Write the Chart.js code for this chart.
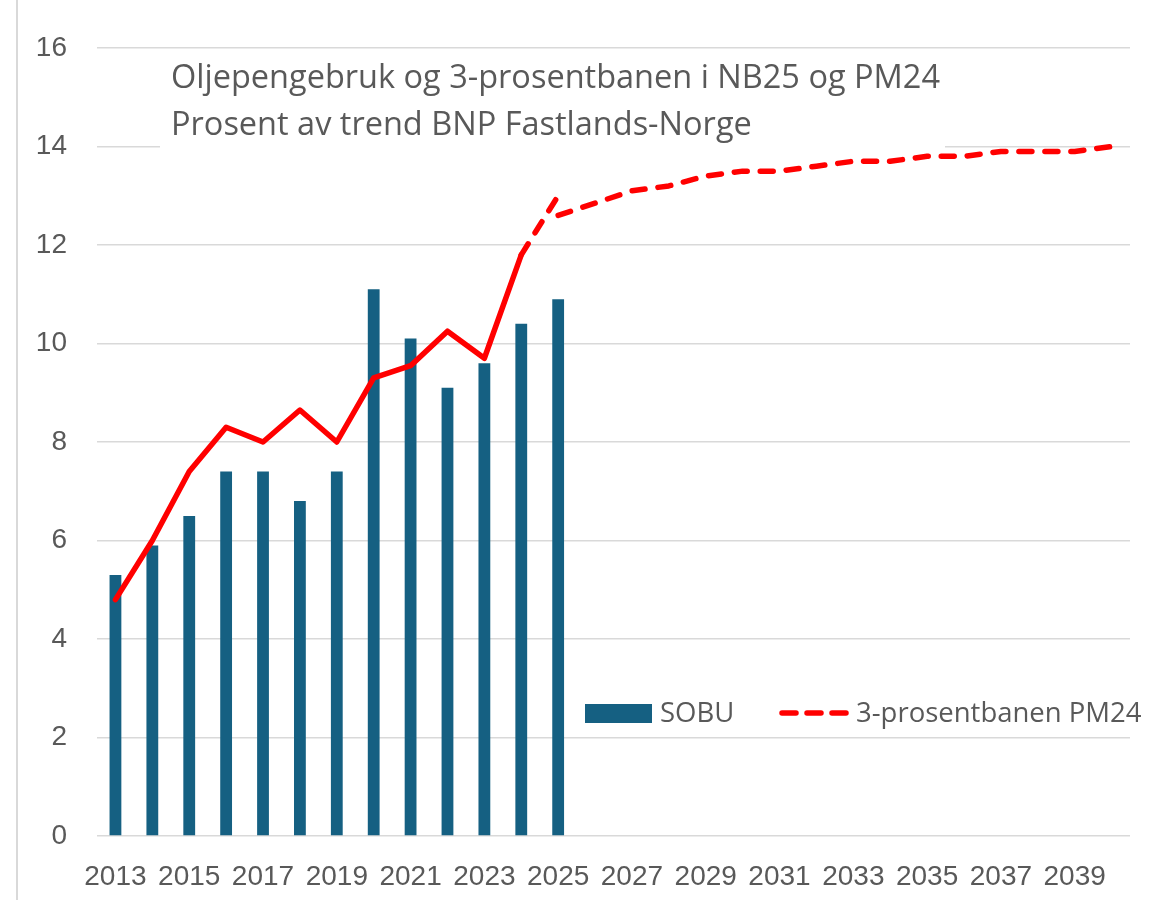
<!DOCTYPE html>
<html>
<head>
<meta charset="utf-8">
<script src="https://cdn.jsdelivr.net/npm/chart.js@4.4.1/dist/chart.umd.min.js"></script>
<style>
  html, body { margin: 0; padding: 0; background: #fff; }
  #wrap { position: relative; width: 1155px; height: 900px; }
</style>
</head>
<body>
<div id="wrap"><canvas id="oljeChart" width="1155" height="900"></canvas></div>
<script>
// Data
const years = ['2013', '2014', '2015', '2016', '2017', '2018', '2019', '2020', '2021', '2022',
               '2023', '2024', '2025', '2026', '2027', '2028', '2029', '2030', '2031', '2032',
               '2033', '2034', '2035', '2036', '2037', '2038', '2039', '2040'];
const sobu = [5.3, 5.9, 6.5, 7.4, 7.4, 6.8, 7.4, 11.1, 10.1, 9.1, 9.6, 10.4, 10.9];          // 2013-2025
const banenNB25 = [4.8, 6.0, 7.4, 8.3, 8.0, 8.65, 8.0, 9.3, 9.55, 10.25, 9.7, 11.8];         // 2013-2024
const banenNB25Frem = [11.8, 13.0];                                                          // 2024-2025
const banenPM24 = [12.6, 12.85, 13.1, 13.2, 13.4, 13.5, 13.5, 13.6, 13.7, 13.7,
                   13.8, 13.8, 13.9, 13.9, 13.9, 14.0];                                      // 2025-2040
const yTicks = [0, 2, 4, 6, 8, 10, 12, 14, 16];

const titleLines = ['Oljepengebruk og 3-prosentbanen i NB25 og PM24', 'Prosent av trend BNP Fastlands-Norge'];

const barColor = '#156082';
const red = '#ff0000';
const textColor = '#595959';
const gridColor = '#d9d9d9';
const dash = [13, 13];
const tickFont = { family: '"Liberation Sans", Arial, sans-serif', size: 28 };

// put a short series on the full year axis
function onYears(values, firstYear) {
    const start = years.indexOf(firstYear);
    return years.map((y, i) => (i >= start && i - start < values.length) ? values[i - start] : null);
}

// frame line, title box and the legend inside the plot
const extras = {
    id: 'extras',
    beforeDraw(chart) {
        const ctx = chart.ctx;
        ctx.save();
        ctx.fillStyle = '#fff';
        ctx.fillRect(0, 0, chart.width, chart.height);
        ctx.strokeStyle = gridColor;
        ctx.lineWidth = 2;
        ctx.beginPath();
        ctx.moveTo(17, 0);
        ctx.lineTo(17, chart.height);
        ctx.stroke();
        ctx.restore();
    },
    beforeDatasetsDraw(chart) {
        const ctx = chart.ctx;
        ctx.save();
        ctx.fillStyle = '#fff';
        ctx.fillRect(160, 55, 785, 96);
        ctx.fillStyle = textColor;
        ctx.font = '32.5px "Open Sans"';
        ctx.textBaseline = 'alphabetic';
        ctx.textAlign = 'left';
        ctx.fillText(titleLines[0], 171, 88);
        ctx.fillText(titleLines[1], 171, 135);
        ctx.restore();
    },
    afterDatasetsDraw(chart) {
        const ctx = chart.ctx;
        ctx.save();
        // SOBU
        ctx.fillStyle = barColor;
        ctx.fillRect(585, 704, 67, 19);
        ctx.fillStyle = textColor;
        ctx.font = '27.5px "Open Sans"';
        ctx.textBaseline = 'alphabetic';
        ctx.fillText(chart.data.datasets[0].label, 660, 722);
        // PM24
        ctx.strokeStyle = red;
        ctx.lineWidth = 5.5;
        ctx.lineCap = 'round';
        ctx.setLineDash([14, 11]);
        ctx.beginPath();
        ctx.moveTo(782, 713);
        ctx.lineTo(846, 713);
        ctx.stroke();
        ctx.setLineDash([]);
        ctx.fillText(chart.data.datasets[3].label, 856, 722);
        ctx.restore();
    }
};

const ctx = document.getElementById('oljeChart').getContext('2d');
const oljeChart = new Chart(ctx, {
    type: 'bar',
    data: {
        labels: years,
        datasets: [{
            type: 'bar',
            label: 'SOBU',
            data: onYears(sobu, '2013'),
            backgroundColor: barColor,
            borderWidth: 0,
            barPercentage: 0.32,
            categoryPercentage: 1.0,
            order: 3
        }, {
            type: 'line',
            label: '3-prosentbanen NB25',
            data: onYears(banenNB25, '2013'),
            borderColor: red,
            borderWidth: 5.5,
            borderJoinStyle: 'round',
            borderCapStyle: 'round',
            pointRadius: 0,
            tension: 0,
            spanGaps: false,
            order: 1
        }, {
            type: 'line',
            label: '3-prosentbanen NB25 frem',
            data: onYears(banenNB25Frem, '2024'),
            borderColor: red,
            borderWidth: 5.5,
            borderDash: dash,
            borderCapStyle: 'round',
            pointRadius: 0,
            tension: 0,
            order: 1
        }, {
            type: 'line',
            label: '3-prosentbanen PM24',
            data: onYears(banenPM24, '2025'),
            borderColor: red,
            borderWidth: 5.5,
            borderDash: dash,
            borderCapStyle: 'round',
            borderJoinStyle: 'round',
            pointRadius: 0,
            tension: 0,
            order: 1
        }]
    },
    options: {
        responsive: false,
        animation: false,
        layout: { padding: { left: 0, right: 25, top: 48, bottom: 0 } },
        plugins: {
            legend: { display: false },
            tooltip: { enabled: false }
        },
        scales: {
            x: {
                offset: true,
                grid: { display: false, drawTicks: false },
                border: { display: false },
                ticks: {
                    autoSkip: false,
                    maxRotation: 0,
                    minRotation: 0,
                    padding: 24,
                    color: textColor,
                    font: tickFont,
                    callback: (value, i) => (i % 2 === 0 ? years[i] : '')
                },
                afterFit: (scale) => { scale.height = 64; }
            },
            y: {
                min: yTicks[0],
                max: yTicks[yTicks.length - 1],
                afterBuildTicks: (scale) => { scale.ticks = yTicks.map(v => ({ value: v })); },
                grid: { color: gridColor, lineWidth: 1.5, drawTicks: false },
                border: { display: false },
                ticks: {
                    padding: 30,
                    color: textColor,
                    font: tickFont
                },
                afterFit: (scale) => { scale.width = 97; }
            }
        }
    },
    plugins: [extras]
});
</script>
</body>
</html>
